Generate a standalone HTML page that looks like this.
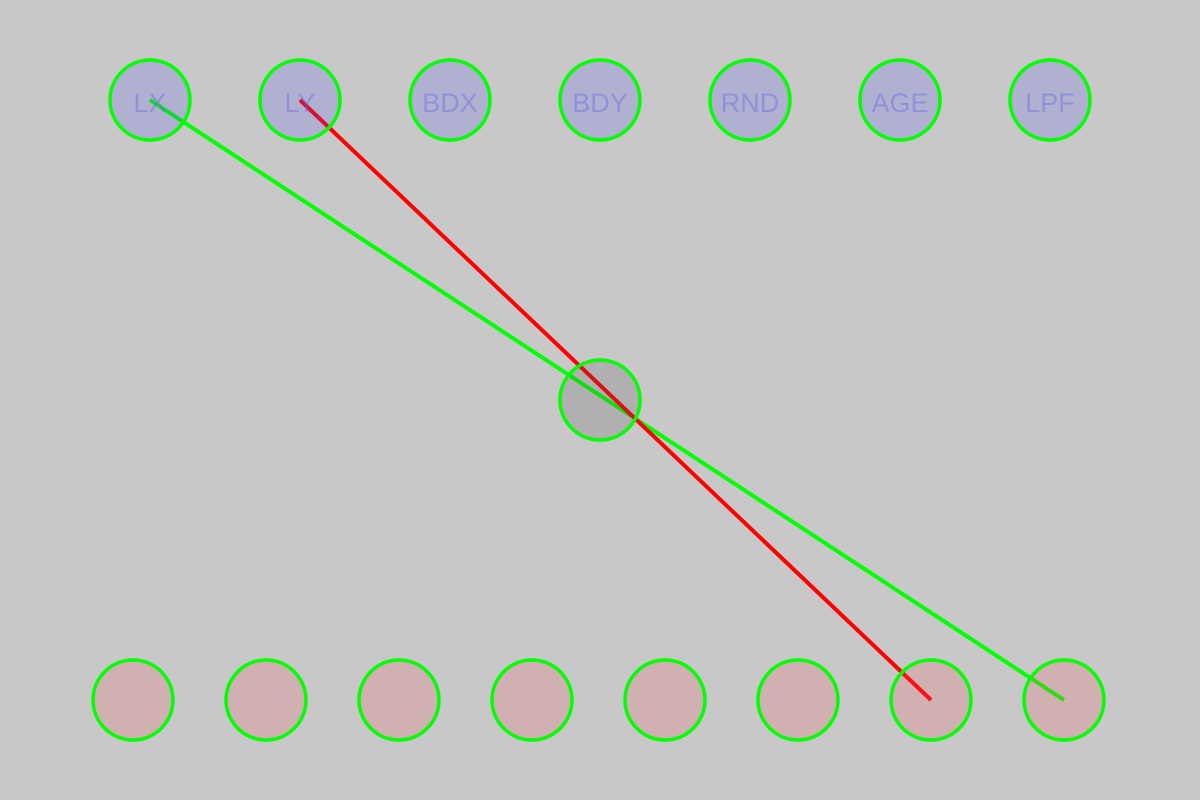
<!DOCTYPE html>
<html><head><meta charset="utf-8"><style>html,body{margin:0;padding:0;background:#c8c8c8;}svg{display:block}</style></head>
<body>
<svg id="chart" width="1200" height="800" viewBox="0 0 1200 800">
<rect x="0" y="0" width="1200" height="800" fill="#c8c8c8"/>
<g id="lines"></g><g id="nodes"></g>
</svg>
<script>
const inputLabels = ["LX","LY","BDX","BDY","RND","AGE","LPF"];
const outputCount = 8;
const connFrom = [0, 1];
const connTo = [7, 6];
const connColors = ["#00ff00", "#ff0000"];
const NS = "http://www.w3.org/2000/svg";
function inX(i){ return 150*(i+1); }
function outX(i){ return 133*(i+1); }
const inY = 100, outY = 700, midX = 600, midY = 400, R = 40;
const lines = document.getElementById('lines'), nodes = document.getElementById('nodes');
connFrom.forEach((f,k)=>{
  const l = document.createElementNS(NS,'line');
  
  
  l.setAttribute('x1', inX(f)); l.setAttribute('y1', inY);
  l.setAttribute('x2', outX(connTo[k])); l.setAttribute('y2', outY);
  l.setAttribute('stroke', connColors[k]); l.setAttribute('stroke-width', 4);
  lines.appendChild(l);
});
function circle(x,y,fill){
  const c = document.createElementNS(NS,'circle');
  c.setAttribute('cx',x); c.setAttribute('cy',y); c.setAttribute('r',R);
  c.setAttribute('fill',fill); c.setAttribute('stroke','#00ff00'); c.setAttribute('stroke-width',3.5);
  nodes.appendChild(c); return c;
}
inputLabels.forEach((lab,i)=>{
  const c = circle(inX(i), inY, 'rgba(80,80,240,0.2)');
  
  
  const t = document.createElementNS(NS,'text');
  
  
  t.setAttribute('x', inX(i)); t.setAttribute('y', inY+12);
  t.setAttribute('text-anchor','middle'); t.setAttribute('font-size','27');
  t.setAttribute('font-family','"Liberation Sans", sans-serif');
  t.setAttribute('fill','rgba(100,100,230,0.4)');
  t.textContent = lab; nodes.appendChild(t);
});
for(let i=0;i<outputCount;i++){
  const c = circle(outX(i), outY, 'rgba(240,80,80,0.2)');
  
  
}
const m = circle(midX, midY, 'rgba(80,80,80,0.2)');


</script>
</body></html>
